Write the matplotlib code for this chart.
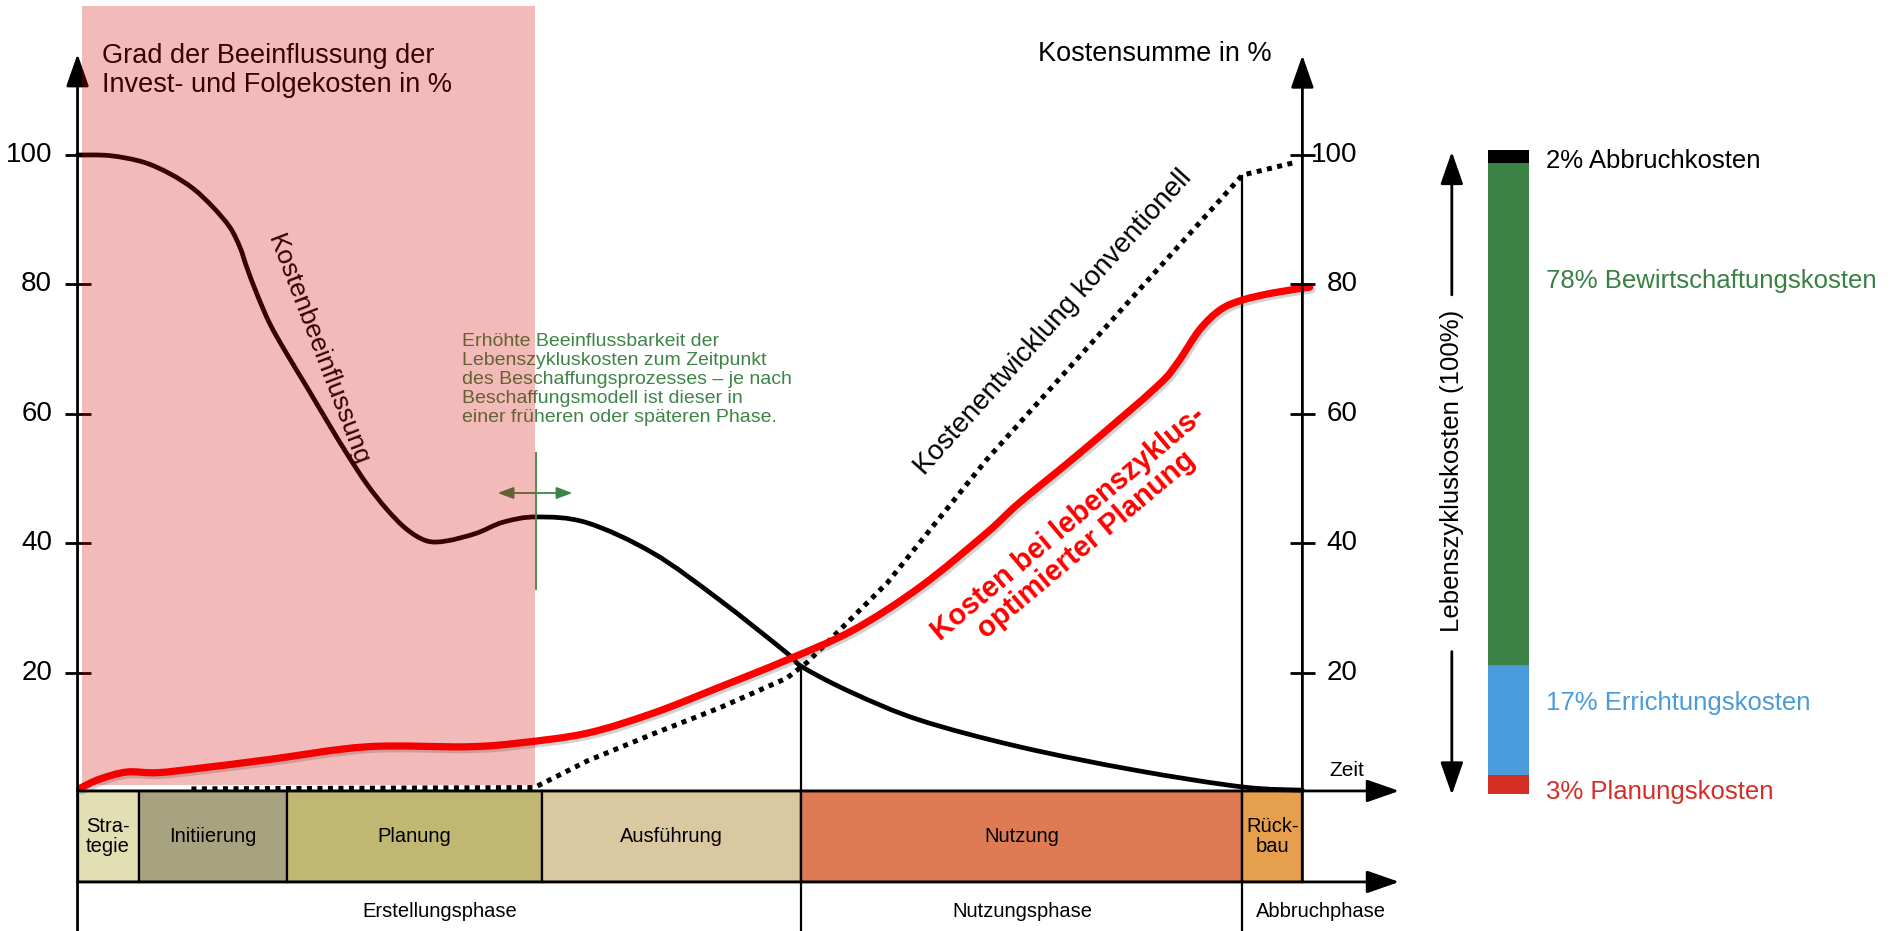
import matplotlib.pyplot as plt
import matplotlib.patheffects as pe
from matplotlib.patches import Rectangle, PathPatch
from matplotlib.path import Path

plt.rcParams['font.family'] = ['Liberation Sans', 'DejaVu Sans']

# time axis in % of the life cycle (0 = start, 100 = end of Rückbau)
phase_names = ["Stra-\ntegie", "Initiierung", "Planung", "Ausführung", "Nutzung", "Rück-\nbau"]
phase_edges = [0, 5.0, 17.1, 37.9, 59.1, 95.1, 100]
phase_colors = ["#e3dfb5", "#a7a27f", "#c0b872", "#d9c8a0", "#de7b54", "#e6a04d"]

stage_names = ["Erstellungsphase", "Nutzungsphase", "Abbruchphase"]
stage_edges = [0, 59.1, 95.1, 107.9]

tick_values = [20, 40, 60, 80, 100]

# Grad der Beeinflussung (black curve)
infl_t = [0, 2.65, 5.37, 7.55, 9.45, 11.08, 12.45, 13.27, 13.81, 14.63, 15.71, 17.08, 18.71,
          20.34, 21.98, 23.61, 25.24, 26.87, 28.51, 30.14, 32.59, 34.76, 37.49, 41.6, 47.0,
          52.4, 57.9, 59.2, 63.3, 68.8, 76.9, 86.3, 95.1, 100]
infl_y = [100, 99.9, 98.9, 97.1, 94.8, 91.9, 88.8, 85.7, 82.7, 78.6, 73.9, 69.3, 64.2,
          59.0, 53.9, 49.2, 45.3, 42.2, 40.4, 40.4, 41.6, 43.3, 44.1, 43.2, 38.5,
          31.3, 23.1, 20.9, 16.9, 12.7, 8.6, 5.0, 2.4, 1.9]

# Kostensumme bei lebenszyklusoptimierter Planung (red curve)
lcc_t = [0.2, 1.8, 4.0, 6.5, 10.0, 15.5, 23.6, 31.8, 36.1, 41.6, 47.0, 52.4, 57.9, 63.3,
         68.8, 74.2, 76.9, 82.1, 88.1, 89.8, 91.6, 93.3, 95.1, 97.6, 100.6]
lcc_y = [2.2, 3.6, 4.7, 4.6, 5.3, 6.6, 8.6, 8.6, 9.2, 10.7, 13.8, 17.8, 22.0, 26.6,
         33.3, 41.6, 46.3, 54.4, 64.2, 67.9, 73.0, 76.1, 77.6, 78.7, 79.6]

# Kostenentwicklung konventionell (dotted)
conv_t = [9.3, 37.3, 41.6, 47.0, 52.4, 57.9, 59.6, 66.1, 74.2, 95.1, 99.5]
conv_y = [2.1, 2.3, 6.4, 10.6, 14.6, 19.2, 21.7, 33.9, 52.9, 96.9, 98.9]

# Lebenszykluskosten split
cost_shares = [3, 17, 78, 2]
cost_names = ["Planungskosten", "Errichtungskosten", "Bewirtschaftungskosten", "Abbruchkosten"]
cost_colors = ["#d42e24", "#4a9bdb", "#3b8045", "#000000"]
cost_text_colors = ["#d42e26", "#4a9cd9", "#3a8044", "#000000"]
cost_label_y = [0.3, 14.1, 79.7, 98.3]

W, H = 1894, 931
fig = plt.figure(figsize=(W / 100, H / 100), dpi=100)
ax = fig.add_axes([0, 0, 1, 1])
ax.set_xlim(-6.33, 148.3)
ax.set_ylim(-19.85, 123.94)
ax.axis('off')

y_time = 1.78
y_base = -12.27


def arrow(x0, y0, x1, y1, color='black', lw=2.0, hl=1.0, hw=0.35, ms=20, style='-|>', z=5):
    ax.annotate("", xy=(x1, y1), xytext=(x0, y0),
                arrowprops=dict(arrowstyle=f"{style},head_length={hl},head_width={hw}",
                                color=color, lw=lw, shrinkA=0, shrinkB=0,
                                mutation_scale=ms), zorder=z)


def smooth_path(xs, ys):
    # Catmull-Rom spline through the points, as cubic Bezier segments
    pts = list(zip(xs, ys))
    verts = [pts[0]]
    codes = [Path.MOVETO]
    n = len(pts)
    for i in range(n - 1):
        p0 = pts[max(i - 1, 0)]
        p1 = pts[i]
        p2 = pts[i + 1]
        p3 = pts[min(i + 2, n - 1)]
        c1 = (p1[0] + (p2[0] - p0[0]) / 6, p1[1] + (p2[1] - p0[1]) / 6)
        c2 = (p2[0] - (p3[0] - p1[0]) / 6, p2[1] - (p3[1] - p1[1]) / 6)
        verts += [c1, c2, p2]
        codes += [Path.CURVE4] * 3
    return Path(verts, codes)


# phase bar
widths = [b - a for a, b in zip(phase_edges[:-1], phase_edges[1:])]
ax.bar(phase_edges[:-1], y_time - y_base, width=widths, bottom=y_base, align='edge',
       color=phase_colors, edgecolor='black', linewidth=1.6, zorder=2)
for name, a, b in zip(phase_names, phase_edges[:-1], phase_edges[1:]):
    ax.text((a + b) / 2, -5.2, name, ha='center', va='center', fontsize=14.5,
            linespacing=1.05, zorder=6)
for name, a, b in zip(stage_names, stage_edges[:-1], stage_edges[1:]):
    ax.text((a + b) / 2, -16.9, name, ha='center', va='center', fontsize=14.5)

# axes
arrow(0, -19.85, 0, 115.6)
arrow(100, y_base, 100, 115.4)
arrow(0, y_time, 107.9, y_time)
arrow(0, y_base, 107.9, y_base)
ax.vlines(59.1, -19.85, 21.0, color='black', lw=1.6, zorder=3)
ax.vlines(95.1, -19.85, 96.9, color='black', lw=1.6, zorder=3)
ax.hlines(tick_values, -1.02, 1.10, color='black', lw=2.0, zorder=5)
ax.hlines(tick_values, 99.0, 101.0, color='black', lw=2.0, zorder=5)
for v in tick_values:
    ax.text(-2.08, v, str(v), ha='right', va='center', fontsize=20)
    ax.text(104.5, v, str(v), ha='right', va='center', fontsize=20)
ax.text(103.6, 4.9, "Zeit", ha='center', va='center', fontsize=15)

ax.text(2.0, 113.1, "Grad der Beeinflussung der\nInvest- und Folgekosten in %",
        ha='left', va='center', fontsize=19.5, linespacing=1.15)
ax.text(97.5, 115.6, "Kostensumme in %", ha='right', va='center', fontsize=19.5)

# curves
ax.add_patch(PathPatch(smooth_path(infl_t, infl_y), fill=False, edgecolor='black',
                       lw=3.4, capstyle='round', joinstyle='round', zorder=3))
ax.plot(conv_t, conv_y, color='black', lw=3.6, linestyle=(0, (1, 1.1)),
        dash_capstyle='butt', zorder=3)
ax.add_patch(PathPatch(smooth_path(lcc_t, lcc_y), fill=False, edgecolor='#ff0000',
                       lw=5.2, capstyle='round', joinstyle='round', zorder=4,
                       path_effects=[pe.SimpleLineShadow(offset=(1.5, -2),
                                                         shadow_color='#555555', alpha=0.25),
                                     pe.Normal()]))

ax.text(19.6, 69.9, "Kostenbeeinflussung", rotation=-69, ha='center', va='center',
        fontsize=19, rotation_mode='anchor', zorder=3)
ax.text(79.7, 74.1, "Kostenentwicklung konventionell", rotation=48, ha='center',
        va='center', fontsize=20, rotation_mode='anchor')
ax.text(81.6, 41.5, "Kosten bei lebenszyklus-\noptimierter Planung", rotation=40,
        ha='center', va='center', fontsize=21, fontweight='bold', color='#ff0000',
        linespacing=1.0, rotation_mode='anchor', multialignment='center')

# Beschaffungszeitpunkt marker
green = '#3c8547'
ax.text(31.4, 65.3, "Erhöhte Beeinflussbarkeit der\nLebenszykluskosten zum Zeitpunkt\n"
        "des Beschaffungsprozesses – je nach\nBeschaffungsmodell ist dieser in\n"
        "einer früheren oder späteren Phase.", ha='left', va='center', fontsize=14,
        color=green, linespacing=1.15, zorder=3)
ax.vlines(37.43, 32.8, 54.1, color=green, lw=1.3, zorder=3)
arrow(34.3, 47.8, 40.4, 47.8, color=green, lw=1.3, hl=0.8, hw=0.3, ms=12, style='<|-|>', z=3)

# highlighted early phase
ax.add_patch(Rectangle((0.37, 2.7), 37.35 - 0.37, 123.0 - 2.7, facecolor='#d40000',
                       alpha=0.27, edgecolor='none', zorder=10))

# Lebenszykluskosten (100%) arrow and label
arrow(112.2, 78.4, 112.2, 100.5, lw=2.0)
arrow(112.2, 23.3, 112.2, 1.2, lw=2.0)
ax.text(112.2, 51.2, "Lebenszykluskosten (100%)", rotation=90, ha='center', va='center',
        fontsize=18.5)

# stacked bar of cost shares
bx = fig.add_axes([1488 / W, (H - 794) / H, 41 / W, 644 / H])
bx.set_xlim(0, 1)
bx.set_ylim(0, 100)
bx.axis('off')
bottom = 0
for share, color in zip(cost_shares, cost_colors):
    bx.bar(0.5, share, width=1, bottom=bottom, color=color, linewidth=0)
    bottom += share
for share, name, tc, ly in zip(cost_shares, cost_names, cost_text_colors, cost_label_y):
    bx.text(1.41, ly, f"{share}% {name}", ha='left', va='center', fontsize=18.5,
            color=tc, clip_on=False)

fig.savefig("out.png", dpi=100)
